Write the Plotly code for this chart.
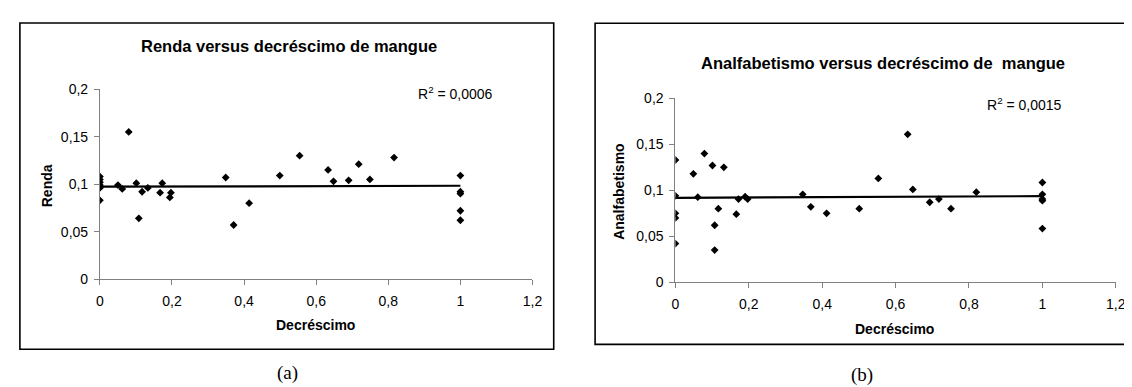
import plotly.graph_objects as go

# ---------------- data ----------------
x_ticks = [0, 0.2, 0.4, 0.6, 0.8, 1, 1.2]
x_tick_labels = ["0", "0,2", "0,4", "0,6", "0,8", "1", "1,2"]
y_ticks = [0, 0.05, 0.1, 0.15, 0.2]
y_tick_labels = ["0", "0,05", "0,1", "0,15", "0,2"]

# (a) Renda versus decréscimo de mangue
renda_x = [0, 0, 0, 0, 0, 0,
           0.050, 0.062, 0.080, 0.101, 0.108, 0.117, 0.133, 0.167, 0.173, 0.194, 0.197,
           0.349, 0.371, 0.414, 0.499, 0.554, 0.633, 0.648, 0.690, 0.718, 0.749, 0.816,
           1, 1, 1, 1, 1]
renda_y = [0.108, 0.105, 0.102, 0.099, 0.096, 0.083,
           0.099, 0.095, 0.155, 0.101, 0.064, 0.092, 0.096, 0.091, 0.101, 0.086, 0.091,
           0.107, 0.057, 0.080, 0.109, 0.130, 0.115, 0.103, 0.104, 0.121, 0.105, 0.128,
           0.109, 0.092, 0.090, 0.072, 0.062]
renda_trend_x = [0, 1]
renda_trend_y = [0.0973, 0.0983]
renda_r2 = "R<sup>2</sup> = 0,0006"

# (b) Analfabetismo versus decréscimo de mangue
analf_x = [0, 0, 0, 0, 0,
           0.049, 0.061, 0.079, 0.101, 0.107, 0.107, 0.117, 0.132, 0.166, 0.172, 0.190, 0.197,
           0.347, 0.369, 0.412, 0.501, 0.553, 0.633, 0.647, 0.693, 0.718, 0.751, 0.820,
           1, 1, 1, 1, 1]
analf_y = [0.133, 0.094, 0.075, 0.070, 0.042,
           0.118, 0.0925, 0.140, 0.127, 0.062, 0.035, 0.080, 0.125, 0.074, 0.0905, 0.093, 0.0905,
           0.0957, 0.082, 0.075, 0.080, 0.113, 0.161, 0.101, 0.087, 0.0905, 0.080, 0.098,
           0.1085, 0.0957, 0.0905, 0.0887, 0.0584]
analf_trend_x = [0, 1]
analf_trend_y = [0.0918, 0.0937]
analf_r2 = "R<sup>2</sup> = 0,0015"

# ---------------- layout helpers ----------------
W, H = 1132, 387
def px(x):
    return x / W
def py(y):
    return 1 - y / H

FONT = "Liberation Sans, Arial, sans-serif"
SERIF = "Liberation Serif, Times New Roman, serif"

fig = go.Figure()

for xs, ys, tx, ty, xa, ya in [
    (renda_x, renda_y, renda_trend_x, renda_trend_y, "x", "y"),
    (analf_x, analf_y, analf_trend_x, analf_trend_y, "x2", "y2"),
]:
    fig.add_trace(go.Scatter(x=tx, y=ty, mode="lines",
                             line=dict(color="black", width=2.2),
                             xaxis=xa, yaxis=ya, showlegend=False, hoverinfo="skip"))
    fig.add_trace(go.Scatter(x=xs, y=ys, mode="markers",
                             marker=dict(symbol="diamond", size=6, color="black"),
                             xaxis=xa, yaxis=ya, showlegend=False, hoverinfo="skip"))

axis_common = dict(
    showline=True, linecolor="#808080", linewidth=1,
    ticks="outside", ticklen=5, tickwidth=1, tickcolor="#808080",
    showgrid=False, zeroline=False, fixedrange=True,
    tickfont=dict(family=FONT, size=14, color="black"),
)

fig.update_layout(
    width=W, height=H,
    margin=dict(l=0, r=0, t=0, b=0),
    paper_bgcolor="white", plot_bgcolor="white",
    showlegend=False,
    xaxis=dict(domain=[px(89), px(527)], range=[0, 1.2], tickvals=x_ticks,
               ticktext=x_tick_labels, anchor="y", ticklabelstandoff=4, **axis_common),
    yaxis=dict(domain=[py(274.5), py(76.3)], range=[0, 0.2], tickvals=y_ticks,
               ticktext=y_tick_labels, anchor="x", ticklabelstandoff=3, **axis_common),
    xaxis2=dict(domain=[px(671.7), px(1117.6)], range=[0, 1.2], tickvals=x_ticks,
                ticktext=x_tick_labels, anchor="y2", ticklabelstandoff=4, **axis_common),
    yaxis2=dict(domain=[py(277.7), py(86)], range=[0, 0.2], tickvals=y_ticks,
                ticktext=y_tick_labels, anchor="x2", ticklabelstandoff=3, **axis_common),
)

def ann(text, x, y, size=14, bold=False, angle=0, family=FONT, xanchor="center"):
    t = f"<b>{text}</b>" if bold else text
    fig.add_annotation(text=t, x=px(x), y=py(y), xref="paper", yref="paper",
                       showarrow=False, xanchor=xanchor, yanchor="middle",
                       textangle=angle, font=dict(family=family, size=size, color="black"))

# chart (a)
ann("Renda versus decréscimo de mangue", 280, 31, size=16.5, bold=True)
ann(renda_r2, 409, 80, size=14, xanchor="left")
ann("Renda", 35, 177, size=14, bold=True, angle=-90)
ann("Decréscimo", 307, 322, size=14, bold=True)
ann("(a)", 279, 372, size=19, family=SERIF)

# chart (b)
ann("Analfabetismo versus decréscimo de  mangue", 882, 49, size=16.5, bold=True)
ann(analf_r2, 985, 92, size=14, xanchor="left")
ann("Analfabetismo", 615, 183, size=14, bold=True, angle=-90)
ann("Decréscimo", 894, 326, size=14, bold=True)
ann("(b)", 861, 374, size=19, family=SERIF)

# frames
fig.add_shape(type="rect", xref="paper", yref="paper",
              x0=px(8), x1=px(548.5), y0=py(347.7), y1=py(7.3),
              line=dict(color="black", width=1.6), fillcolor="rgba(0,0,0,0)", layer="below")
fig.add_shape(type="rect", xref="paper", yref="paper",
              x0=px(590.4), x1=px(1145), y0=py(342.5), y1=py(7.5),
              line=dict(color="black", width=1.6), fillcolor="rgba(0,0,0,0)", layer="below")

fig.write_html("out.html")
